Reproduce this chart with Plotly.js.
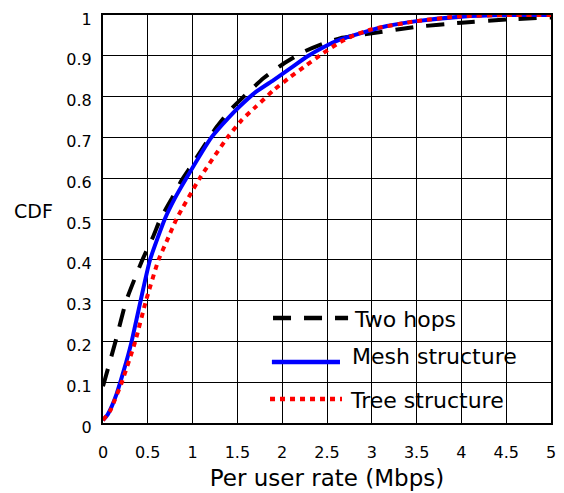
<!DOCTYPE html>
<html>
<head>
<meta charset="utf-8">
<script src="https://cdn.plot.ly/plotly-3.0.1.min.js"></script>
<style>html,body{margin:0;padding:0;background:#fff}</style>
</head>
<body>
<div id="chart" style="width:564px;height:493px"></div>
<script>
// Series names
const seriesNames = ["Two hops", "Mesh structure", "Tree structure"];

// Two hops (black dashed)
const twoHopsX = [0, 0.14, 0.26, 0.44, 0.56, 0.64, 0.77, 0.88, 0.99, 1.27, 1.42, 1.57, 1.79, 2.01, 2.24, 2.46, 2.65, 3.0, 3.5, 4.0, 4.5, 5.0];
const twoHopsY = [0.09, 0.2, 0.3, 0.4, 0.457, 0.5, 0.551, 0.596, 0.632, 0.726, 0.767, 0.80, 0.845, 0.88, 0.91, 0.93, 0.943, 0.955, 0.971, 0.981, 0.989, 0.994];

// Mesh structure (blue solid)
const meshX = [0, 0.05, 0.1, 0.15, 0.2, 0.26, 0.32, 0.42, 0.525, 0.69, 0.80, 0.93, 1.21, 1.40, 1.53, 1.71, 1.90, 2.09, 2.27, 2.46, 2.65, 2.87, 3.17, 3.5, 4.0, 4.5, 5.0];
const meshY = [0.007, 0.02, 0.042, 0.07, 0.105, 0.15, 0.2, 0.3, 0.4, 0.5, 0.55, 0.6, 0.7, 0.748, 0.777, 0.812, 0.84, 0.869, 0.897, 0.921, 0.94, 0.955, 0.973, 0.985, 0.996, 1.0, 1.0];

// Tree structure (red dotted)
const treeX = [0, 0.08, 0.13, 0.21, 0.36, 0.48, 0.62, 0.72, 0.82, 1.08, 1.39, 1.55, 1.71, 1.90, 2.09, 2.27, 2.46, 2.65, 2.8, 3.0, 3.5, 4.0, 4.5, 5.0];
const treeY = [0.007, 0.03, 0.056, 0.1, 0.2, 0.3, 0.4, 0.45, 0.5, 0.6, 0.7, 0.743, 0.776, 0.815, 0.848, 0.877, 0.907, 0.934, 0.95, 0.965, 0.985, 0.997, 1.0, 1.0];

// Axis ticks
const xTicks = [0, 0.5, 1, 1.5, 2, 2.5, 3, 3.5, 4, 4.5, 5];
const xTickLabels = ["0", "0.5", "1", "1.5", "2", "2.5", "3", "3.5", "4", "4.5", "5"];
const yTicks = [0, 0.1, 0.2, 0.3, 0.4, 0.5, 0.6, 0.7, 0.8, 0.9, 1];
const yTickLabels = ["0", "0.1", "0.2", "0.3", "0.4", "0.5", "0.6", "0.7", "0.8", "0.9", "1"];

const xTitle = "Per user rate (Mbps)";
const yTitle = "CDF";

const FONT = "DejaVu Sans, Liberation Sans, Arial, sans-serif";
const colors = ["#000000", "#0000ff", "#ff0000"];
const dashes = ["18px,13px", "solid", "5px,5px"];

const traces = [
  {x: twoHopsX, y: twoHopsY},
  {x: meshX, y: meshY},
  {x: treeX, y: treeY}
].map((d, i) => ({
  x: d.x, y: d.y, name: seriesNames[i], type: "scatter", mode: "lines",
  line: {color: colors[i], width: 4, dash: dashes[i], shape: "spline", smoothing: 0.5},
  showlegend: false, hoverinfo: "skip"
}));

// Manual legend (samples + labels) in paper coordinates
const legendRows = [
  {y: 0.2574, x0: 0.3795, x1: 0.547, tx: 0.5558, ty: 0.2525},
  {y: 0.1495, x0: 0.377, x1: 0.529, tx: 0.551, ty: 0.1618},
  {y: 0.0588, x0: 0.3728, x1: 0.5335, tx: 0.547, ty: 0.054}
];
const shapes = legendRows.map((r, i) => ({
  type: "line", xref: "paper", yref: "paper", x0: r.x0, x1: r.x1, y0: r.y, y1: r.y,
  line: {color: colors[i], width: 4.5, dash: dashes[i]}
}));
const annotations = legendRows.map((r, i) => ({
  xref: "paper", yref: "paper", x: r.tx, y: r.ty, xanchor: "left", yanchor: "middle",
  text: seriesNames[i], showarrow: false, font: {family: FONT, size: 22, color: "#000"}
}));
annotations.push({
  xref: "paper", yref: "paper", x: -0.155, y: 0.519, xanchor: "center", yanchor: "middle",
  text: yTitle, showarrow: false, font: {family: FONT, size: 19, color: "#000"}
});

const layout = {
  width: 564, height: 493,
  margin: {l: 103, r: 13, t: 15, b: 70},
  paper_bgcolor: "#fff", plot_bgcolor: "#fff",
  font: {family: FONT, size: 16, color: "#000"},
  xaxis: {
    range: [0, 5], tickvals: xTicks, ticktext: xTickLabels,
    showgrid: true, gridcolor: "#000", gridwidth: 1, zeroline: false,
    showline: true, linecolor: "#000", linewidth: 2, mirror: true,
    ticks: "", ticklabelstandoff: 14, tickfont: {family: FONT, size: 16},
    title: {text: xTitle, font: {family: FONT, size: 23}, standoff: 9},
    automargin: false, fixedrange: true
  },
  yaxis: {
    range: [0, 1], tickvals: yTicks, ticktext: yTickLabels,
    showgrid: true, gridcolor: "#000", gridwidth: 1, zeroline: false,
    showline: true, linecolor: "#000", linewidth: 2, mirror: true,
    ticks: "", ticklabelstandoff: 6, ticklabelshift: 4, tickfont: {family: FONT, size: 16},
    automargin: false, fixedrange: true
  },
  shapes: shapes,
  annotations: annotations,
  showlegend: false
};

Plotly.newPlot("chart", traces, layout, {displayModeBar: false, staticPlot: true});
</script>
</body>
</html>
